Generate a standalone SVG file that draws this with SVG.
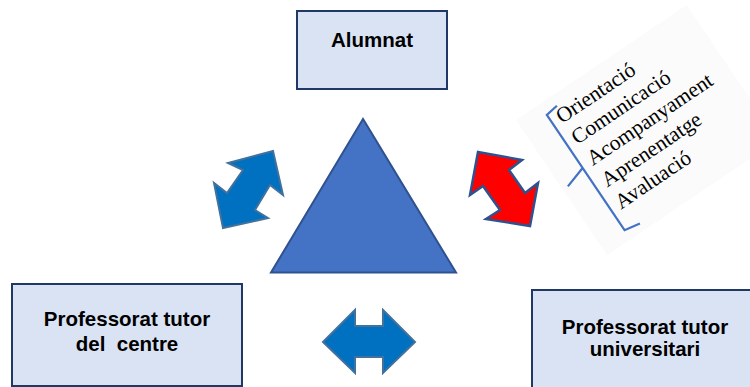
<svg xmlns="http://www.w3.org/2000/svg" width="750" height="387" viewBox="0 0 750 387">
<style>
.box{fill:#DAE3F3;stroke:#1F3864;stroke-width:2}
.lbl{font-family:"Liberation Sans",Arial,sans-serif;font-weight:bold;font-size:20.5px;fill:#000;text-anchor:middle;white-space:pre}
.blue{fill:#0070C0;stroke:#41719C;stroke-width:2;stroke-linejoin:miter}
.red{fill:#FF0000;stroke:#2F528F;stroke-width:2.5}
.item{font-family:"Liberation Serif","Times New Roman",serif;font-size:21.5px;fill:#000}
</style>
<rect width="750" height="387" fill="#FFFFFF"/>
<g id="panel" transform="translate(562,124) rotate(-34)">
<rect x="-36" y="-29" width="206" height="163" fill="#FBFBFB"/>
<path d="M6,-18 L-7.5,-16 L-7.5,123 L9,126 M-7.5,48 L-30,55" fill="none" stroke="#4472C4" stroke-width="2.2"/>
<text class="item" x="0" y="0">Orientació</text>
<text class="item" x="1" y="26">Comunicació</text>
<text class="item" x="2" y="52">Acompanyament</text>
<text class="item" x="2" y="78">Aprenentatge</text>
<text class="item" x="1" y="104">Avaluació</text>
</g>
<g id="triangle">
<polygon points="363,119 271,272.5 456,272.5" fill="#4472C4" stroke="#2F528F" stroke-width="2"/>
</g>
<g id="alumnat">
<rect class="box" x="297" y="11" width="150" height="78"/>
<text class="lbl" x="372" y="47">Alumnat</text>
</g>
<g id="centre">
<rect class="box" x="12" y="284" width="230" height="102"/>
<text class="lbl" x="127" y="326">Professorat tutor</text>
<text class="lbl" x="127" y="351">del  centre</text>
</g>
<g id="universitari">
<rect class="box" x="532" y="290" width="230" height="110"/>
<text class="lbl" x="645" y="334">Professorat tutor</text>
<text class="lbl" x="645" y="356">universitari</text>
</g>
<g id="connectors">
<polygon class="blue" points="273,151 228,163 243,170 227,193 214,183 223,228 268,218 255,210 270,185 283,195"/>
<polygon class="red" points="478,152 522,160 509,170 525,193 538,183 530,226 486,219 500,210 483,186 470,195"/>
<polygon class="blue" points="323,342 355,310 355,326 383,326 383,310 415,342 383,373 383,357 355,357 355,373"/>
</g>
</svg>
